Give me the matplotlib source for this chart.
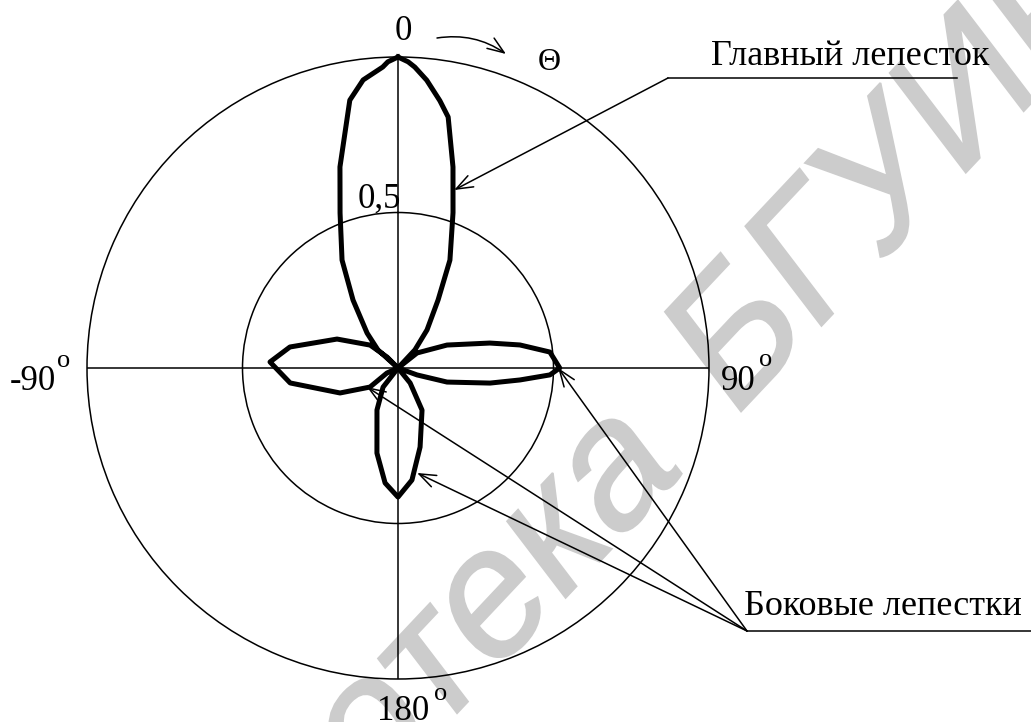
import numpy as np
import matplotlib
matplotlib.use('Agg')
import matplotlib.pyplot as plt
from matplotlib.textpath import TextPath
from matplotlib.font_manager import FontProperties
from matplotlib.patches import PathPatch, FancyArrowPatch
from matplotlib.transforms import Affine2D

# диаграмма направленности: угол (град, по часовой от 0) и нормированная амплитуда
theta_deg = [0, 1.9, 3.2, 5.7, 8.9, 11.3, 15.3, 19.5, 25.7, 30.5, 37.3, 43, 46,
             51.7, 64.9, 74.8, 79.3, 84.0, 90, 92.6, 95.6, 99.3, 106, 110, 125,
             141, 150.3, 164.4, 172.9, 180, 186.4, 193.9, 206.6, 218, 228,
             245.6, 235.8, 246.7, 262.1, 272.7, 281, 295.4, 309.4, 315, 316,
             312, 318.5, 326.5, 332.6, 339.5, 343.9, 349.8, 353.1, 357.1, 358.1, 360]
r_val = [1.0, 0.985, 0.969, 0.93, 0.87, 0.823, 0.67, 0.53, 0.385, 0.254, 0.154, 0.08, 0.0,
         0.078, 0.174, 0.306, 0.399, 0.491, 0.52, 0.489, 0.394, 0.30, 0.164, 0.065, 0.0,
         0.062, 0.156, 0.264, 0.363, 0.415, 0.372, 0.282, 0.151, 0.078, 0.0,
         0.039, 0.109, 0.203, 0.35, 0.412, 0.354, 0.217, 0.116, 0.05, 0.0,
         0.087, 0.150, 0.262, 0.391, 0.532, 0.673, 0.875, 0.933, 0.969, 0.985, 1.0]

rings = [0.5]
axis_angles = [0, 90, 180, 270]

W, H = 1031, 722
def fp(x, y):
    # пиксели картинки -> доли фигуры
    return x / W, 1 - y / H

plt.rcParams['font.family'] = ['Liberation Serif', 'DejaVu Serif']

fig = plt.figure(figsize=(W / 100, H / 100), dpi=100)
R = 311
ax = fig.add_axes([(398 - R) / W, (H - 368 - R) / H, 2 * R / W, 2 * R / H], projection='polar')
ax.set_theta_zero_location('N')
ax.set_theta_direction(-1)
ax.set_ylim(0, 1)
ax.set_rgrids(rings, labels=[''] * len(rings))
ax.set_thetagrids(axis_angles, labels=[''] * len(axis_angles))
ax.grid(True, color='black', linestyle='-', linewidth=1.1)
ax.spines['polar'].set_linewidth(1.1)
ax.patch.set_facecolor('none')

ax.plot(np.radians(theta_deg), r_val, color='black', linewidth=3.6,
        solid_joinstyle='round', clip_on=False, zorder=5)

arrow = dict(arrowstyle='->,head_length=0.8,head_width=0.3', mutation_scale=15,
             color='black', linewidth=1.1, shrinkA=0, shrinkB=0)

# главный лепесток
ax.annotate('', xy=(np.radians(17.5), 0.6), xycoords='data',
            xytext=fp(668, 78), textcoords='figure fraction', arrowprops=arrow)
fig.add_artist(plt.Line2D([668 / W, 957 / W], [1 - 78 / H] * 2, color='black', linewidth=1.1))
fig.text(*fp(711, 65), 'Главный лепесток', fontsize=26, ha='left', va='baseline')

# боковые лепестки
for th, rr in [(90, 0.515), (238.5, 0.117), (169.7, 0.343)]:
    ax.annotate('', xy=(np.radians(th), rr), xycoords='data',
                xytext=fp(747, 631), textcoords='figure fraction', arrowprops=arrow)
fig.add_artist(plt.Line2D([747 / W, 1.0], [1 - 631 / H] * 2, color='black', linewidth=1.1))
fig.text(*fp(744, 615), 'Боковые лепестки', fontsize=26, ha='left', va='baseline')

# направление отсчета угла
fig.add_artist(FancyArrowPatch(
    fp(437, 38), fp(506, 54), transform=fig.transFigure,
    connectionstyle='arc3,rad=-0.2', **arrow))
fig.text(*fp(549, 62), 'Θ', fontsize=23, ha='center', va='center')

# подписи осей
fig.text(*fp(403, 40), '0', fontsize=25, ha='center', va='baseline')
fig.text(*fp(401, 208), '0,5', fontsize=25, ha='right', va='baseline')
fig.text(*fp(56, 390), '-90', fontsize=25, ha='right', va='baseline')
fig.text(*fp(57, 367), 'o', fontsize=19, ha='left', va='baseline')
fig.text(*fp(721, 390), '90', fontsize=25, ha='left', va='baseline')
fig.text(*fp(759, 366), 'o', fontsize=19, ha='left', va='baseline')
fig.text(*fp(377, 720), '180', fontsize=25, ha='left', va='baseline')
fig.text(*fp(434, 700), 'o', fontsize=19, ha='left', va='baseline')

# водяной знак (повернут и растянут по вертикали, как на скане)
wm_font = FontProperties(family='Liberation Sans')
wm_size = 165
angle = 42
stretch = 1.18
anchor = (731, 300)
left_part = TextPath((0, 0), 'Библиотека', size=wm_size, prop=wm_font)
right_part = TextPath((0, 0), 'БГУИР', size=wm_size, prop=wm_font)
shift = left_part.get_extents().x1 + 0.4 * wm_size
for path, dx in [(left_part, -shift), (right_part, 0)]:
    tr = Affine2D().translate(dx, 0).rotate_deg(angle).scale(1, stretch).translate(*anchor)
    fig.add_artist(PathPatch(path, facecolor='#cccccc', edgecolor='#cccccc', linewidth=1.5,
                             transform=tr, zorder=-1))

fig.savefig('out.png', dpi=100)
